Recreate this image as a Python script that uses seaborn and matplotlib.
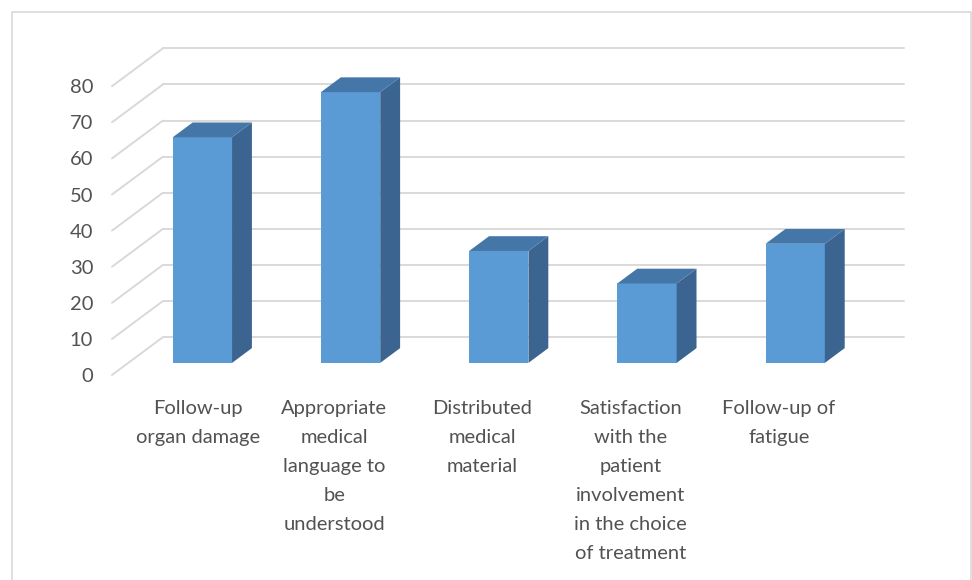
import matplotlib
matplotlib.use("Agg")
import matplotlib.pyplot as plt
import seaborn as sns
import pandas as pd
from matplotlib.patches import Polygon, Rectangle
from matplotlib.transforms import ScaledTranslation

# Data
categories = [
    "Follow-up\norgan damage",
    "Appropriate\nmedical\nlanguage to\nbe\nunderstood",
    "Distributed\nmedical\nmaterial",
    "Satisfaction\nwith the\npatient\ninvolvement\nin the choice\nof treatment",
    "Follow-up of\nfatigue",
]
values = [62.5, 75, 31, 22, 33]
y_ticks = [0, 10, 20, 30, 40, 50, 60, 70, 80]

# Colours (Excel 3D column look)
front_color = "#5b9bd5"
top_color = "#4476a8"
side_color = "#3b6590"
grid_color = "#d9d9d9"
text_color = "#525252"

sns.set_style("white")
plt.rcParams["font.family"] = ["Lato", "DejaVu Sans"]

fig = plt.figure(figsize=(9.72, 5.8), dpi=100)
ax = fig.add_axes([0.1152, 0.3534, 0.8148, 0.5633])

# depth of the 3D box in data units (back wall offset)
ddx = 0.344
ddy = 10.5
bar_front = 0.32   # where the bar front sits in the depth
bar_depth = 0.39   # how deep a bar is

df = pd.DataFrame({"category": categories, "value": values})
sns.barplot(data=df, x="category", y="value", color=front_color, width=0.4,
            saturation=1, ax=ax, zorder=3)

ax.set_xlim(-0.5, 4.5 + ddx)
ax.set_ylim(0, 80 + ddy)

# back wall gridlines and left wall diagonals
for v in y_ticks:
    ax.plot([-0.5 + ddx, 4.5 + ddx], [v + ddy, v + ddy], color=grid_color,
            lw=1.4, zorder=1, clip_on=False)
    ax.plot([-0.5, -0.5 + ddx], [v, v + ddy], color=grid_color,
            lw=1.4, zorder=1, clip_on=False)

# turn flat bars into 3D columns
for p in ax.patches:
    x0 = p.get_x() + bar_front * ddx
    b = bar_front * ddy
    w = p.get_width()
    h = p.get_height()
    p.set_x(x0)
    p.set_y(b)
    p.set_edgecolor("none")
    dx = bar_depth * ddx
    dy = bar_depth * ddy
    side = Polygon([(x0 + w, b), (x0 + w + dx, b + dy), (x0 + w + dx, b + h + dy), (x0 + w, b + h)],
                   closed=True, facecolor=side_color, edgecolor="none", zorder=3)
    top = Polygon([(x0, b + h), (x0 + w, b + h), (x0 + w + dx, b + h + dy), (x0 + dx, b + h + dy)],
                  closed=True, facecolor=top_color, edgecolor="none", zorder=3)
    ax.add_patch(side)
    ax.add_patch(top)

ax.set_yticks(y_ticks)
ax.set_yticklabels([str(t) for t in y_ticks], fontsize=14.5, color=text_color)
ax.set_xticks(range(len(categories)))
ax.set_xticklabels(categories, fontsize=14.5, color=text_color, linespacing=1.85)
ax.tick_params(axis="y", length=0, pad=13.5)
ax.tick_params(axis="x", length=0, pad=18)
ax.set_xlabel("")
ax.set_ylabel("")
sns.despine(ax=ax, left=True, bottom=True)

# the first category label sits a little to the right in the original
first = ax.xaxis.get_major_ticks()[0].label1
first.set_transform(first.get_transform() + ScaledTranslation(0.12, 0, fig.dpi_scale_trans))

# light outer border like the chart area frame
fig.patches.append(Rectangle((12 / 972, -0.1), (971 - 12) / 972, 0.9793 + 0.1,
                             transform=fig.transFigure, fill=False,
                             edgecolor=grid_color, lw=1.2))

fig.savefig("out.png", dpi=100)
